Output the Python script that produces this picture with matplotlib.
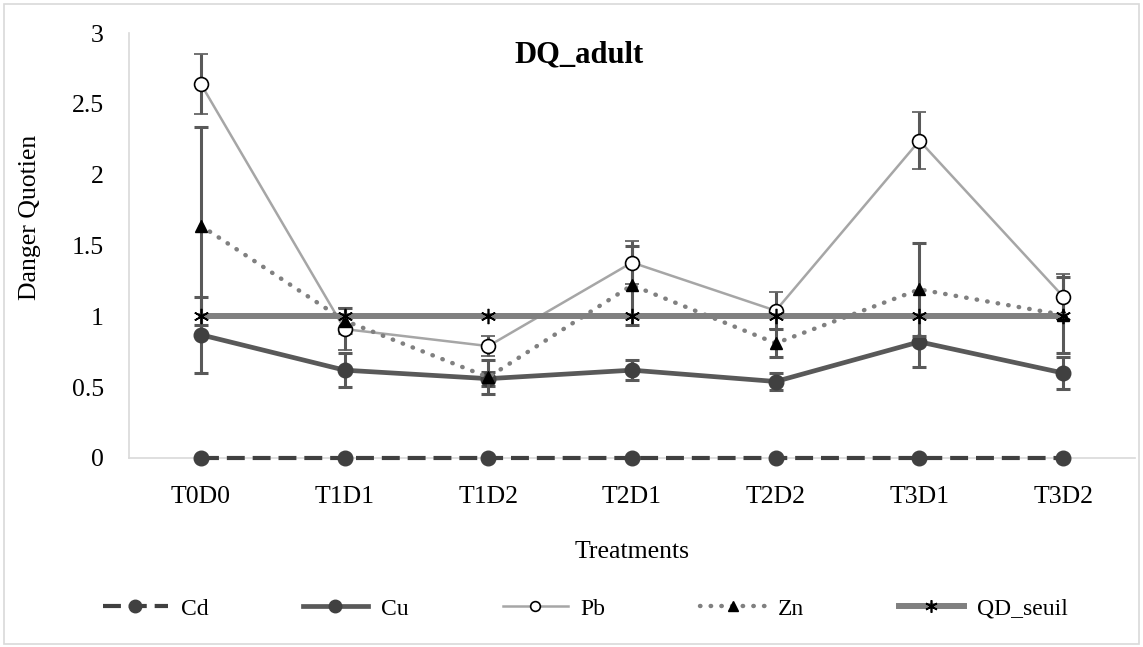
import matplotlib
matplotlib.use("Agg")
import matplotlib.pyplot as plt
from matplotlib.lines import Line2D
from matplotlib.patches import Rectangle

plt.rcParams["font.family"] = ["Liberation Serif", "DejaVu Serif"]

# Danger quotient per treatment (adult exposure)
treatments = ["T0D0", "T1D1", "T1D2", "T2D1", "T2D2", "T3D1", "T3D2"]
cd = [0, 0, 0, 0, 0, 0, 0]
cu = [0.87, 0.62, 0.56, 0.62, 0.54, 0.82, 0.60]
pb = [2.64, 0.91, 0.79, 1.38, 1.04, 2.24, 1.14]
zn = [1.64, 0.97, 0.57, 1.22, 0.81, 1.19, 1.01]
qd_seuil = [1, 1, 1, 1, 1, 1, 1]

cu_err = [0.27, 0.12, 0.05, 0.07, 0.06, 0.18, 0.11]
pb_err = [0.21, 0.15, 0.07, 0.15, 0.13, 0.20, 0.16]
zn_err = [0.70, 0.09, 0.12, 0.28, 0.10, 0.33, 0.27]

FS = 18.5
ERR_COLOR = "#595959"

# line styles shared by plot and legend
styles = {
    "Cd": dict(color="#404040", lw=3.0, dashes=(4.3, 1.9), marker="o",
               mfc="#404040", mec="#404040"),
    "Cu": dict(color="#595959", lw=3.4, marker="o", mfc="#404040", mec="#404040"),
    "Pb": dict(color="#A6A6A6", lw=1.8, marker="o", mfc="white", mec="black", mew=1.2),
    "Zn": dict(color="#808080", lw=3.2, linestyle=(0, (0.1, 2.3)),
               dash_capstyle="round", marker="^", mfc="black", mec="black"),
    "QD_seuil": dict(color="#808080", lw=4.3, marker=(6, 2, 0), mec="black", mew=1.2),
}

fig = plt.figure(figsize=(11.43, 6.47), dpi=100)
ax = fig.add_axes([129 / 1143, 189 / 647, (1135 - 129) / 1143, (458 - 33) / 647])

x = list(range(len(treatments)))
err_kw = dict(ecolor=ERR_COLOR, elinewidth=2.2, capsize=5, capthick=2.2)

# Cd sits on the baseline, so keep it unclipped
ax.plot(x, cd, ms=10.5, zorder=3, clip_on=False, **styles["Cd"])
ax.errorbar(x, cu, yerr=cu_err, ms=10.5, zorder=3, **styles["Cu"], **err_kw)
ax.errorbar(x, pb, yerr=pb_err, ms=10, zorder=4, **styles["Pb"], **err_kw)
ax.errorbar(x, zn, yerr=zn_err, ms=8, zorder=4, **styles["Zn"], **err_kw)
ax.plot(x, qd_seuil, ms=11, zorder=5, **styles["QD_seuil"])

ax.set_xlim(-0.5, len(treatments) - 0.5)
ax.set_ylim(0, 3)
ax.set_yticks([0, 0.5, 1, 1.5, 2, 2.5, 3])
ax.set_yticklabels(["0", "0.5", "1", "1.5", "2", "2.5", "3"])
ax.set_xticks(x)
ax.set_xticklabels(treatments)
ax.tick_params(axis="both", length=0, labelsize=FS, colors="black")
ax.tick_params(axis="x", pad=20)
ax.tick_params(axis="y", pad=18)

for side in ["top", "right"]:
    ax.spines[side].set_visible(False)
for side in ["left", "bottom"]:
    ax.spines[side].set_color("#D9D9D9")
    ax.spines[side].set_linewidth(1.2)
ax.spines["bottom"].set_zorder(1)

ax.set_xlabel("Treatments", fontsize=FS, labelpad=24)
ax.set_ylabel("Danger Quotien", fontsize=FS)
ax.yaxis.set_label_coords(-0.087, 0.565)
fig.text(0.507, 0.915, "DQ_adult", ha="center", va="center",
         fontsize=22, fontweight="bold")

legend_ms = {"Cd": 9, "Cu": 9, "Pb": 7, "Zn": 7, "QD_seuil": 9}
handles = [Line2D([], [], ms=legend_ms[k], **styles[k]) for k in styles]
fig.legend(handles, list(styles), loc="center",
           bbox_to_anchor=(0.512, 0.059), ncol=5, frameon=False,
           fontsize=17, handlelength=2.75, columnspacing=4.0,
           handletextpad=0.55, numpoints=1)

fig.patches.append(Rectangle((4 / 1143, 3 / 647), 1135 / 1143, 640 / 647,
                             transform=fig.transFigure, fill=False,
                             edgecolor="#D9D9D9", lw=1.2))

fig.savefig("out.png", dpi=100)
